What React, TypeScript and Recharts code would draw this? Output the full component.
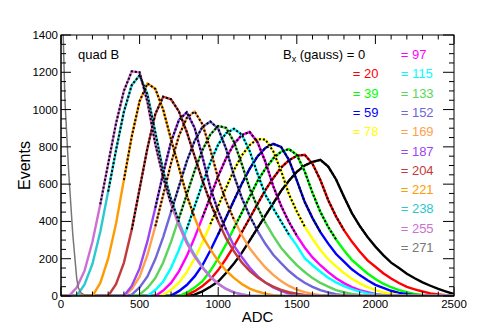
import { Line, LineChart, XAxis, YAxis } from 'recharts';

const FONT = '"Liberation Sans", Arial, Helvetica, sans-serif';
const W = 480;
const H = 327;
const MARGIN = { top: 35, right: 26, bottom: 6, left: 21 };
const Y_AXIS_W = 40;
const X_AXIS_H = 25;
const PLOT_L = MARGIN.left + Y_AXIS_W;
const PLOT_T = MARGIN.top;
const PLOT_W = W - PLOT_L - MARGIN.right;
const PLOT_H = H - PLOT_T - MARGIN.bottom - X_AXIS_H;

// ADC bins (every 50 counts) shared by the histograms
const adc = [
  0, 50, 100, 150, 200, 250, 300, 350, 400, 450, 500, 550, 600, 650, 700, 750, 800, 850, 900, 950,
  1000, 1050, 1100, 1150, 1200, 1250, 1300, 1350, 1400, 1450, 1500, 1550, 1600, 1650, 1700, 1750,
  1800, 1850, 1900, 1950, 2000, 2050, 2100, 2150, 2200, 2250, 2300, 2350, 2400, 2450, 2500,
];

// events per bin, one array per Bx setting (gauss)
const bx0 = [
  0, 0, 0, 0, 0, 0, 0, 0, 0, 0, 0, 0, 0, 0, 0, 0, 0,
  7, 25, 50, 78, 123, 174, 231, 297, 364, 431, 497, 564, 618, 666, 700, 719, 730, 694, 625, 533,
  445, 376, 317, 265, 219, 179, 150, 119, 95, 73, 55, 38, 24, 10,
];
const bx20 = [
  0, 0, 0, 0, 0, 0, 0, 0, 0, 0, 0, 0, 0, 0, 0, 0,
  6, 26, 54, 89, 139, 200, 267, 342, 417, 493, 568, 632, 689, 728, 752, 758, 709, 622, 514, 426,
  353, 292, 239, 191, 157, 122, 94, 70, 49, 36, 24, 14, 8, 4, 2,
];
const bx39 = [
  0, 0, 0, 0, 0, 0, 0, 0, 0, 0, 0, 0, 0, 0, 0, 0,
  18, 45, 79, 135, 202, 277, 363, 447, 532, 616, 683, 738, 774, 788, 757, 669, 553, 451, 370, 303,
  245, 194, 157, 121, 91, 66, 47, 32, 20, 11, 6, 2, 0, 0, 0,
];
const bx59 = [
  0, 0, 0, 0, 0, 0, 0, 0, 0, 0, 0, 0, 0, 0,
  2, 26, 59, 105, 165, 244, 331, 421, 512, 602, 682, 749, 794, 816, 800, 730, 620, 505, 418, 343,
  281, 225, 184, 143, 112, 84, 60, 43, 28, 17, 10, 5, 2, 0, 0, 0, 0,
];
const bx78 = [
  0, 0, 0, 0, 0, 0, 0, 0, 0, 0, 0, 0, 0,
  7, 33, 71, 128, 201, 287, 385, 482, 580, 675, 754, 809, 842, 839, 777, 671, 546, 454, 373, 307,
  247, 197, 159, 123, 92, 68, 48, 32, 20, 11, 6, 2, 0, 0, 0, 0, 0, 0,
];
const bx97 = [
  0, 0, 0, 0, 0, 0, 0, 0, 0, 0, 0, 0, 0,
  29, 70, 132, 214, 313, 422, 532, 643, 739, 815, 863, 880, 825, 720, 589, 484, 397, 324, 260, 207,
  165, 128, 95, 69, 48, 32, 20, 11, 5, 2, 0, 0, 0, 0, 0, 0, 0, 0,
];
const bx115 = [
  0, 0, 0, 0, 0, 0, 0, 0, 0, 0, 0, 0,
  32, 78, 151, 247, 359, 481, 601, 717, 813, 873, 897, 866, 778, 656, 543, 470, 400, 330, 270, 203,
  165, 130, 98, 73, 53, 37, 24, 14, 8, 4, 1, 0, 0, 0, 0, 0, 0, 0, 0,
];
const bx133 = [
  0, 0, 0, 0, 0, 0, 0, 0, 0, 0,
  7, 43, 96, 180, 290, 416, 544, 672, 783, 866, 912, 902, 827, 708, 577, 478, 393, 322, 259, 210,
  166, 129, 96, 70, 50, 32, 20, 11, 6, 2, 0, 0, 0, 0, 0, 0, 0, 0, 0, 0, 0,
];
const bx152 = [
  0, 0, 0, 0, 0, 0, 0, 0, 0,
  7, 46, 105, 198, 316, 451, 587, 722, 832, 907, 936, 898, 790, 647, 526, 430, 349, 280, 221, 176,
  134, 99, 71, 49, 31, 19, 10, 5, 1, 0, 0, 0, 0, 0, 0, 0, 0, 0, 0, 0, 0, 0,
];
const bx169 = [
  0, 0, 0, 0, 0, 0, 0, 0, 0,
  36, 104, 221, 374, 542, 712, 859, 955, 990, 921, 786, 630, 510, 410, 328, 256, 203, 153, 113, 80,
  54, 34, 21, 11, 4, 0, 0, 0, 0, 0, 0, 0, 0, 0, 0, 0, 0, 0, 0, 0, 0, 0,
];
const bx187 = [
  0, 0, 0, 0, 0, 0, 0, 0, 0,
  54, 148, 294, 473, 658, 827, 944, 985, 902, 745, 580, 455, 356, 270, 209, 153, 107, 72, 46, 27,
  13, 6, 1, 0, 0, 0, 0, 0, 0, 0, 0, 0, 0, 0, 0, 0, 0, 0, 0, 0, 0, 0,
];
const bx204 = [
  0, 0, 0, 0, 0, 0, 0,
  63, 178, 356, 575, 794, 976, 1069, 1055, 990, 880, 750, 620, 500, 400, 310, 240, 180, 135, 100,
  72, 50, 33, 20, 12, 6, 2, 0, 0, 0, 0, 0, 0, 0, 0, 0, 0, 0, 0, 0, 0, 0, 0, 0, 0, 0, 0,
];
const bx221 = [
  0, 0, 0, 0, 0,
  70, 200, 388, 622, 856, 1045, 1140, 1111, 1000, 840, 690, 540, 420, 320, 250, 188, 136, 97, 64,
  40, 24, 13, 5, 0, 0, 0, 0, 0, 0, 0, 0, 0, 0, 0, 0, 0, 0, 0, 0, 0, 0, 0, 0, 0, 0, 0,
];
const bx238 = [
  0, 0, 0,
  62, 172, 345, 560, 782, 988, 1131, 1184, 1081, 877, 670, 519, 398, 294, 220, 156, 104, 66, 38,
  19, 8, 2, 0, 0, 0, 0, 0, 0, 0, 0, 0, 0, 0, 0, 0, 0, 0, 0, 0, 0, 0, 0, 0, 0, 0, 0, 0, 0,
];
const bx255 = [
  0, 0,
  45, 136, 291, 492, 709, 926, 1100, 1205, 1200, 1040, 814, 636, 493, 379, 283, 211, 151, 102, 66,
  38, 19, 9, 2, 0, 0, 0, 0, 0, 0, 0, 0, 0, 0, 0, 0, 0, 0, 0, 0, 0, 0, 0, 0, 0, 0, 0, 0, 0, 0,
];

// 271 G sits at the pedestal only, finer bins there
const adc271 = [0, 25, 50, 75, 100, 110, 125, 150, 200, 250, 2500];
const bx271 = [1850, 1050, 650, 330, 95, 45, 18, 5, 1, 0, 0];

const fields = [0, 20, 39, 59, 78, 97, 115, 133, 152, 169, 187, 204, 221, 238, 255, 271];
const colors = [
  '#000000', '#ff0000', '#00ff00', '#0000ff', '#ffff00', '#ff00ff', '#00ffff', '#5ad45a',
  '#6f67d8', '#ffa04a', '#9b45f5', '#c23b3b', '#ff9a00', '#2ac9d0', '#cd6fd2', '#777777',
];

// fit window (ADC) for the dashed fit on each histogram
const fitLo = [1200, 1150, 1100, 1000, 950, 900, 800, 750, 700, 600, 600, 450, 400, 300, 250];
const fitHi = [1950, 1800, 1750, 1650, 1550, 1500, 1450, 1300, 1250, 1100, 1050, 1000, 850, 750, 700];

const xTicks = [
  0, 100, 200, 300, 400, 500, 600, 700, 800, 900, 1000, 1100, 1200, 1300, 1400, 1500, 1600, 1700,
  1800, 1900, 2000, 2100, 2200, 2300, 2400, 2500,
];
const yTicks = [
  0, 50, 100, 150, 200, 250, 300, 350, 400, 450, 500, 550, 600, 650, 700, 750, 800, 850, 900, 950,
  1000, 1050, 1100, 1150, 1200, 1250, 1300, 1350, 1400,
];

const hists = [bx0, bx20, bx39, bx59, bx78, bx97, bx115, bx133, bx152, bx169, bx187, bx204, bx221, bx238, bx255];

const rows = adc.map((x, i) => {
  const r: Record<string, number | null> = { adc: x };
  hists.forEach((h, k) => {
    r['h' + k] = h[i];
    r['f' + k] = x >= fitLo[k] && x <= fitHi[k] ? h[i] : null;
  });
  return r;
});
const rows271 = adc271.map((x, i) => ({ adc: x, v: bx271[i] }));

// ROOT style: ticks point inwards, mirrored on the top and right edges
const BottomTick = ({ x, y, payload }: any) => {
  const major = payload.value % 500 === 0;
  const len = major ? 9 : 4.5;
  const top = y - PLOT_H;
  return (
    <g>
      <line x1={x} x2={x} y1={y} y2={y - len} stroke="#000" />
      <line x1={x} x2={x} y1={top} y2={top + len} stroke="#000" />
      {major && (
        <text x={x} y={y + 12} textAnchor="middle" fontSize={11.5} fontFamily={FONT} fill="#000">
          {payload.value}
        </text>
      )}
    </g>
  );
};

const LeftTick = ({ x, y, payload }: any) => {
  const major = payload.value % 200 === 0;
  const right = x + PLOT_W;
  return (
    <g>
      <line x1={x} x2={x + (major ? 10 : 5)} y1={y} y2={y} stroke="#000" />
      <line x1={right} x2={right - (major ? 11 : 5)} y1={y} y2={y} stroke="#000" />
      {major && (
        <text x={x - 3} y={y + 4} textAnchor="end" fontSize={11.5} fontFamily={FONT} fill="#000">
          {payload.value}
        </text>
      )}
    </g>
  );
};

function Overlay() {
  return (
    <svg width={W} height={H} style={{ position: 'absolute', left: 0, top: 0, pointerEvents: 'none' }}>
      <rect x={PLOT_L} y={PLOT_T} width={PLOT_W} height={PLOT_H} fill="none" stroke="#000" />
      <g fontFamily={FONT} fontSize={13}>
        <text x={78} y={59}>quad B</text>
        <text x={283} y={59} fill="#000">
          B<tspan fontSize={9} dy={3}>x</tspan>
          <tspan dy={-3}> (gauss) = 0</tspan>
        </text>
        {fields.slice(1).map((f, i) => {
          const k = i + 1;
          const left = k <= 4;
          const row = left ? k : k - 5;
          return (
            <text key={f} x={left ? 352.7 : 400.7} y={59 + row * 19.3} fill={colors[k]}>
              = {f}
            </text>
          );
        })}
      </g>
      <text x={PLOT_L + PLOT_W / 2} y={322} textAnchor="middle" fontFamily={FONT} fontSize={15}>ADC</text>
      <text
        transform={`translate(29.5,${PLOT_T + PLOT_H / 2}) rotate(-90)`}
        textAnchor="middle"
        fontFamily={FONT}
        fontSize={16}
      >
        Events
      </text>
    </svg>
  );
}

export default function App() {
  return (
    <div style={{ position: 'absolute', left: 0, top: 0, width: W, height: H, background: '#fff' }}>
      <LineChart width={W} height={H} data={rows} margin={MARGIN}>
        <XAxis
          type="number"
          dataKey="adc"
          domain={[0, 2500]}
          ticks={xTicks}
          interval={0}
          height={X_AXIS_H}
          tickSize={0}
          tickMargin={0}
          tickLine={false}
          tick={(p: any) => <BottomTick {...p} />}
          axisLine={{ stroke: '#000' }}
          allowDataOverflow
        />
        <YAxis
          type="number"
          domain={[0, 1400]}
          ticks={yTicks}
          interval={0}
          width={Y_AXIS_W}
          tickSize={0}
          tickMargin={0}
          tickLine={false}
          tick={(p: any) => <LeftTick {...p} />}
          axisLine={{ stroke: '#000' }}
          allowDataOverflow
        />
        {hists.map((_, k) => (
          <Line
            key={'h' + k}
            type="linear"
            dataKey={'h' + k}
            stroke={colors[k]}
            strokeWidth={2.4}
            dot={false}
            activeDot={false}
            isAnimationActive={false}
          />
        ))}
        <Line
          data={rows271}
          dataKey="v"
          stroke={colors[15]}
          strokeWidth={1.5}
          dot={false}
          activeDot={false}
          isAnimationActive={false}
        />
        {hists.map((_, k) => (
          <Line
            key={'f' + k}
            type="linear"
            dataKey={'f' + k}
            stroke="#000"
            strokeWidth={2}
            strokeDasharray="2 2"
            dot={false}
            activeDot={false}
            isAnimationActive={false}
          />
        ))}
      </LineChart>
      <Overlay />
    </div>
  );
}
